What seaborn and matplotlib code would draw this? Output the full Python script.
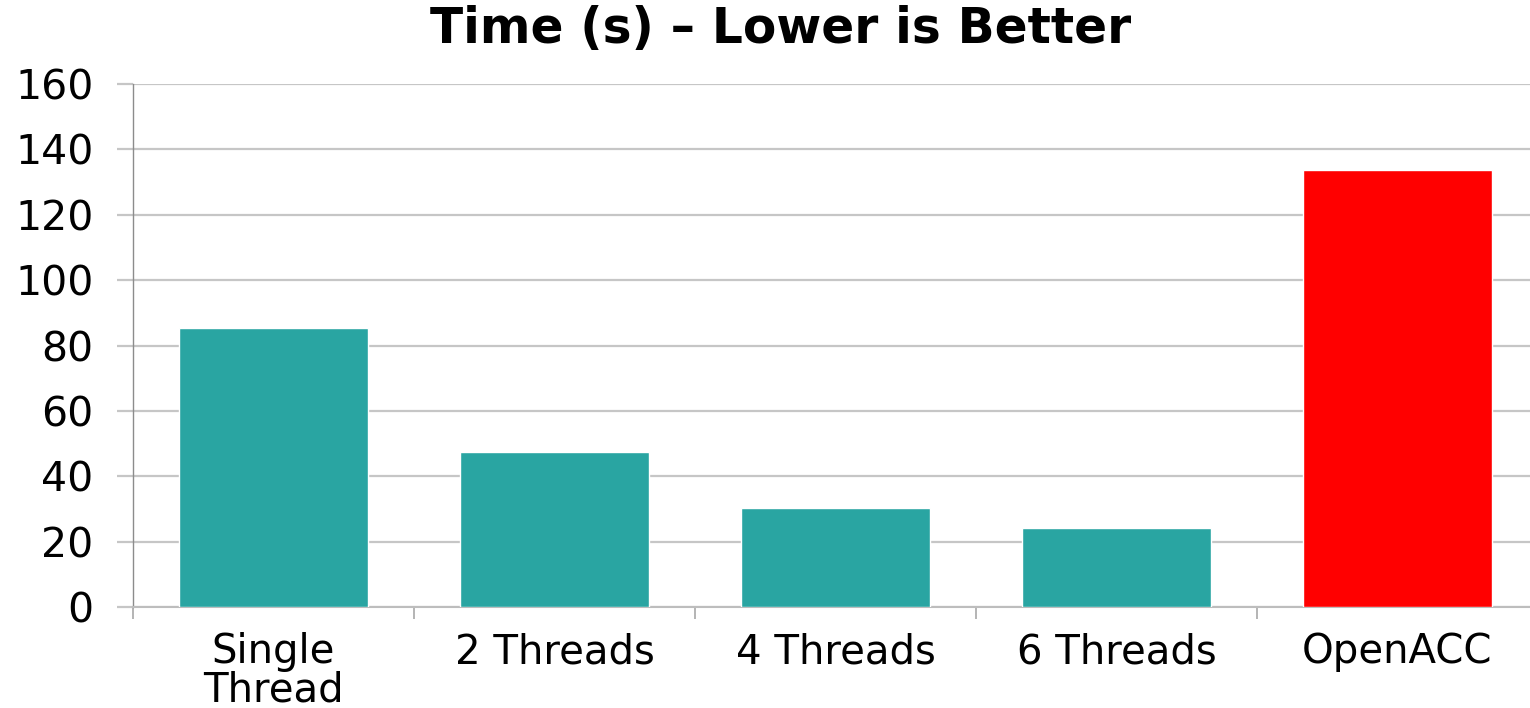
import matplotlib
matplotlib.use("Agg")
import matplotlib.pyplot as plt
from matplotlib.ticker import FixedLocator
import seaborn as sns
import pandas as pd

# Run times for each configuration
categories = ["Single\nThread", "2 Threads", "4 Threads", "6 Threads", "OpenACC"]
times = [85.3, 47.3, 30.4, 24.2, 133.8]
bar_colors = ["#29A5A2", "#29A5A2", "#29A5A2", "#29A5A2", "#FF0000"]
y_ticks = [0, 20, 40, 60, 80, 100, 120, 140, 160]
title = "Time (s) \u2013 Lower is Better"

sns.set_theme(style="white")
plt.rcParams["font.family"] = ["DejaVu Sans"]

df = pd.DataFrame({"config": categories, "time": times})

fig = plt.figure(figsize=(15.30, 7.08), dpi=100)
ax = fig.add_axes([133 / 1530, 1 - 607 / 708, 1405 / 1530, 523 / 708])

sns.barplot(data=df, x="config", y="time", hue="config", palette=bar_colors,
            width=0.67, saturation=1, legend=False, ax=ax, zorder=3)

ax.set_xlim(-0.5, len(categories) - 0.5)
ax.set_ylim(0, 160)
ax.set_yticks(y_ticks)
ax.set_yticklabels([str(v) for v in y_ticks])
ax.set_xlabel("")
ax.set_ylabel("")

# horizontal gridlines
grid_color = "#C6C6C6"
ax.yaxis.grid(True, color=grid_color, linewidth=1.6, zorder=0)
ax.set_axisbelow(True)

# spines
for s in ["top", "right"]:
    ax.spines[s].set_visible(False)
ax.spines["left"].set_color("#8C8C8C")
ax.spines["left"].set_linewidth(1.0)
ax.spines["bottom"].set_color("#BDBDBD")
ax.spines["bottom"].set_linewidth(1.5)

# y ticks continue the gridlines to the left of the axis
ax.tick_params(axis="y", which="major", left=True, length=11.5, width=1.6,
               color=grid_color, pad=17, labelsize=29.5, labelcolor="black")

# category labels without tick marks, separators at category boundaries
ax.tick_params(axis="x", which="major", bottom=False, length=0, pad=18,
               labelsize=29, labelcolor="black")
ax.xaxis.set_minor_locator(FixedLocator([i - 0.5 for i in range(len(categories) + 1)]))
ax.tick_params(axis="x", which="minor", bottom=True, length=8.6, width=1.1,
               color="#A0A0A0")
for lbl in ax.get_xticklabels():
    lbl.set_linespacing(0.95)

fig.text(781 / 1530, 1 - 43 / 708, title, ha="center", va="baseline",
         fontsize=35, fontweight="bold", color="black")

fig.savefig("out.png", dpi=100)
